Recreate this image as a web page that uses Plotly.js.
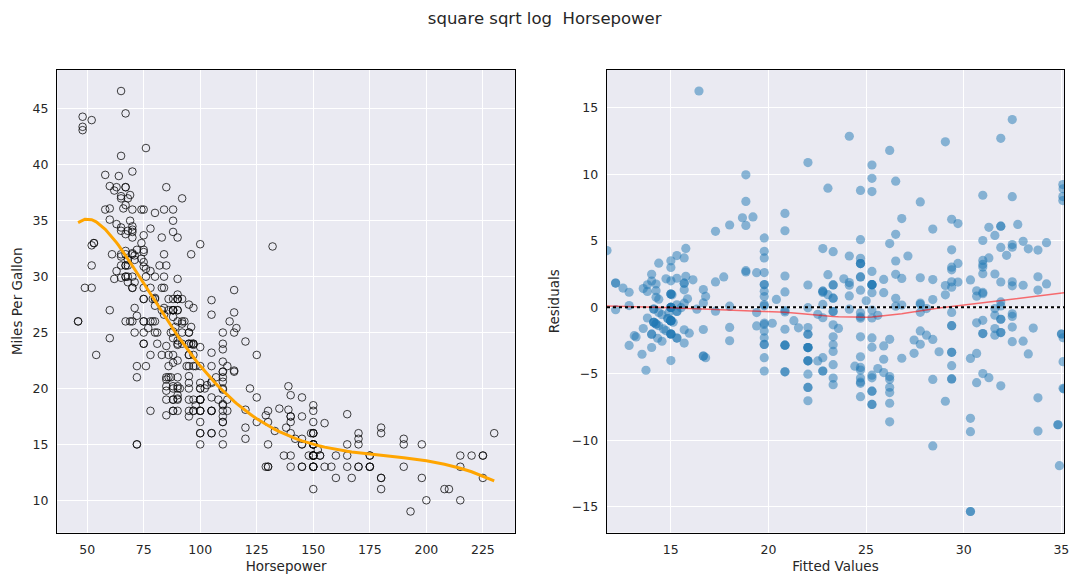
<!DOCTYPE html>
<html>
<head>
<meta charset="utf-8">
<script src="https://cdn.plot.ly/plotly-3.0.1.min.js"></script>
<style>
  html, body { margin: 0; padding: 0; background: #ffffff; }
  #chart { width: 1080px; height: 585px; }
</style>
</head>
<body>
<div id="chart"></div>
<script>
// ---- Data: Auto MPG (horsepower, miles per gallon), 392 cars ----
const horsepower = [
  130,165,150,150,140,198,220,215,225,190,170,160,150,225,95,95,97,85,88,46,87,90,95,113,90,215,200,210,193,
  88,90,95,100,105,100,88,100,165,175,153,150,180,170,175,110,72,100,88,86,90,70,76,65,69,60,70,
  95,80,54,90,86,165,175,150,153,150,208,155,160,190,97,150,130,140,150,112,76,87,69,86,92,97,80,88,
  175,150,145,137,150,198,150,158,150,215,225,175,105,100,100,88,95,46,150,167,170,180,100,88,72,94,90,85,107,90,145,230,49,75,91,112,150,110,122,180,
  95,100,100,67,80,65,75,100,110,105,140,150,150,140,150,83,67,78,52,61,75,75,75,97,93,67,
  95,105,72,72,170,145,150,148,110,105,110,95,110,110,129,75,83,100,78,96,71,97,97,70,90,95,88,98,115,53,
  86,81,92,79,83,140,150,120,152,100,105,81,90,52,60,70,53,100,78,110,95,71,70,75,72,102,150,88,108,120,180,145,130,150,
  68,80,58,96,70,145,110,145,130,110,105,100,98,180,170,190,149,78,88,75,89,63,83,67,78,97,110,110,
  48,66,52,70,60,110,140,139,105,95,85,88,100,90,105,85,110,120,145,165,139,140,68,95,97,75,95,105,85,97,103,125,115,133,71,68,
  115,85,88,90,110,130,129,138,135,155,142,125,150,71,65,80,80,77,125,71,90,70,70,65,69,90,115,115,90,
  76,60,70,65,90,88,90,90,78,90,75,92,75,65,105,65,48,48,67,67,67,67,62,132,100,88,72,
  84,84,92,110,84,58,64,60,67,65,62,68,63,65,65,74,75,75,100,74,80,76,116,120,110,105,88,85,
  88,88,88,85,84,90,92,74,68,68,63,70,88,75,70,67,67,67,110,85,92,112,96,84,90,86,52,84,79,82
];
const mpg = [
  18,15,18,16,17,15,14,14,14,15,15,14,15,14,24,22,18,21,27,26,25,24,25,26,21,10,10,11,9,
  27,28,25,19,16,17,19,18,14,14,14,14,12,13,13,18,22,19,18,23,28,30,30,31,35,27,26,
  24,25,23,20,21,13,14,15,14,17,11,13,12,13,19,15,13,13,14,18,22,21,26,22,28,23,28,27,
  13,14,13,14,15,12,13,13,14,13,12,13,18,16,18,18,23,26,11,12,13,12,18,20,21,22,18,19,21,26,15,16,29,24,20,19,15,24,20,11,
  20,19,15,31,26,32,25,16,16,18,16,13,14,14,14,29,26,26,31,32,28,24,26,24,26,31,
  19,18,15,15,16,15,16,14,17,16,15,18,21,20,13,29,23,20,23,24,25,24,18,29,19,23,23,22,25,33,
  28,25,25,26,27,17.5,16,15.5,14.5,22,22,24,22.5,29,24.5,29,33,20,18,18.5,17.5,29.5,32,28,26.5,20,13,19,19,16.5,16.5,13,13,13,
  31.5,30,36,25.5,33.5,17.5,17,15.5,15,17.5,20.5,19,18.5,16,15.5,15.5,16,29,24.5,26,25.5,30.5,33.5,30,30.5,22,21.5,21.5,
  43.1,36.1,32.8,39.4,36.1,19.9,19.4,20.2,19.2,20.5,20.2,25.1,20.5,19.4,20.6,20.8,18.6,18.1,19.2,17.7,18.1,17.5,30,27.5,27.2,30.9,21.1,23.2,23.8,23.9,20.3,17,21.6,16.2,31.5,29.5,
  21.5,19.8,22.3,20.2,20.6,17,17.6,16.5,18.2,16.9,15.5,19.2,18.5,31.9,34.1,35.7,27.4,25.4,23,27.2,23.9,34.2,34.5,31.8,37.3,28.4,28.8,26.8,33.5,
  41.5,38.1,32.1,37.2,28,26.4,24.3,19.1,34.3,29.8,31.3,37,32.2,46.6,27.9,40.8,44.3,43.4,36.4,30,44.6,33.8,29.8,32.7,23.7,35,32.4,
  27.2,26.6,25.8,23.5,30,39.1,39,35.1,32.3,37,37.7,34.1,34.7,34.4,29.9,33,33.7,32.4,32.9,31.6,28.1,30.7,25.4,24.2,22.4,26.6,20.2,17.6,
  28,27,34,31,29,27,24,36,37,31,38,36,36,36,34,38,32,38,25,38,26,22,32,36,27,27,44,32,28,31
];

const chartTitle = 'square sqrt log\u00a0 Horsepower';
const xTitleLeft = 'Horsepower';
const yTitleLeft = 'Miles Per Gallon';
const xTitleRight = 'Fitted Values';
const yTitleRight = 'Residuals';

// ---- OLS: mpg ~ hp + hp^2 + sqrt(hp) + log(hp) ----
function features(h) { return [h, h * h, Math.sqrt(h), Math.log(h)]; }
function olsFit(xs, ys) {
  const n = xs.length, p = 4;
  const F = xs.map(features);
  const mu = [], sd = [];
  for (let j = 0; j < p; j++) {
    let m = 0; for (const f of F) m += f[j]; m /= n;
    let v = 0; for (const f of F) v += (f[j] - m) ** 2;
    mu.push(m); sd.push(Math.sqrt(v / n));
  }
  const k = p + 1;
  const cols = [];
  cols.push(F.map(() => 1));
  for (let j = 0; j < p; j++) cols.push(F.map(f => (f[j] - mu[j]) / sd[j]));
  // modified Gram-Schmidt QR
  const Q = [], R = Array.from({length: k}, () => new Array(k).fill(0));
  for (let j = 0; j < k; j++) {
    let v = cols[j].slice();
    for (let i = 0; i < j; i++) {
      let d = 0; for (let t = 0; t < n; t++) d += Q[i][t] * v[t];
      R[i][j] = d;
      for (let t = 0; t < n; t++) v[t] -= d * Q[i][t];
    }
    let nr = 0; for (let t = 0; t < n; t++) nr += v[t] * v[t];
    nr = Math.sqrt(nr);
    R[j][j] = nr;
    Q.push(v.map(a => a / nr));
  }
  const qy = Q.map(q => { let s = 0; for (let t = 0; t < n; t++) s += q[t] * ys[t]; return s; });
  const beta = new Array(k).fill(0);
  for (let i = k - 1; i >= 0; i--) {
    let s = qy[i];
    for (let j = i + 1; j < k; j++) s -= R[i][j] * beta[j];
    beta[i] = s / R[i][i];
  }
  return h => {
    const f = features(h);
    let s = beta[0];
    for (let j = 0; j < p; j++) s += beta[j + 1] * (f[j] - mu[j]) / sd[j];
    return s;
  };
}

// ---- LOWESS (frac 2/3, 3 robustifying iterations) ----
function lowess(x, y, frac, iters) {
  const n = x.length;
  const idx = x.map((_, i) => i).sort((a, b) => x[a] - x[b]);
  const xs = idx.map(i => x[i]), ys = idx.map(i => y[i]);
  const k = Math.floor(frac * n + 1e-10);
  let rw = new Array(n).fill(1);
  const fit = new Array(n).fill(0);
  for (let it = 0; it <= iters; it++) {
    for (let i = 0; i < n; i++) {
      const d = xs.map(v => Math.abs(v - xs[i]));
      const ds = d.slice().sort((a, b) => a - b);
      let h = ds[k - 1]; if (h <= 0) h = 1e-12;
      let sw = 0, sx = 0, sy = 0, sxx = 0, sxy = 0;
      for (let j = 0; j < n; j++) {
        const u = d[j] / h;
        if (u < 1) {
          const w = Math.pow(1 - u * u * u, 3) * rw[j];
          sw += w; sx += w * xs[j]; sy += w * ys[j];
          sxx += w * xs[j] * xs[j]; sxy += w * xs[j] * ys[j];
        }
      }
      const mx = sx / sw, my = sy / sw;
      const vx = sxx / sw - mx * mx, cxy = sxy / sw - mx * my;
      fit[i] = vx > 1e-12 ? my + cxy / vx * (xs[i] - mx) : my;
    }
    if (it === iters) break;
    const res = ys.map((v, i) => v - fit[i]);
    const ab = res.map(Math.abs).sort((a, b) => a - b);
    const med = n % 2 ? ab[(n - 1) / 2] : (ab[n / 2 - 1] + ab[n / 2]) / 2;
    const s = 6 * med;
    rw = res.map(r => { const u = r / s; return Math.abs(u) < 1 ? (1 - u * u) ** 2 : 0; });
  }
  return {xs, fit};
}

const predict = olsFit(horsepower, mpg);
const fitted = horsepower.map(predict);
const residuals = mpg.map((v, i) => v - fitted[i]);
const curveX = Array.from(new Set(horsepower)).sort((a, b) => a - b);
const curveY = curveX.map(predict);
const lw = lowess(fitted, residuals, 2 / 3, 3);

function padRange(arr, frac) {
  const lo = Math.min(...arr), hi = Math.max(...arr), sp = hi - lo;
  return [lo - frac * sp, hi + frac * sp];
}

const FONT = 'DejaVu Sans, Liberation Sans, sans-serif';
const TXT = '#262626';

const traces = [
  {
    x: horsepower, y: mpg, type: 'scatter', mode: 'markers',
    xaxis: 'x', yaxis: 'y', hoverinfo: 'skip',
    marker: { size: 7.6, color: 'rgba(0,0,0,0)', line: { color: 'rgba(10,10,10,0.78)', width: 1 } }
  },
  {
    x: curveX, y: curveY, type: 'scatter', mode: 'lines',
    xaxis: 'x', yaxis: 'y', hoverinfo: 'skip',
    line: { color: '#FFA500', width: 3 }
  },
  {
    x: fitted, y: residuals, type: 'scatter', mode: 'markers',
    xaxis: 'x2', yaxis: 'y2', hoverinfo: 'skip',
    marker: { size: 9.2, color: '#1f77b4', opacity: 0.5, line: { width: 0 } }
  },
  {
    x: lw.xs, y: lw.fit, type: 'scatter', mode: 'lines',
    xaxis: 'x2', yaxis: 'y2', hoverinfo: 'skip',
    line: { color: 'rgba(255,0,0,0.55)', width: 1.5 }
  }
];

function axisBase(extra) {
  return Object.assign({
    showgrid: true, gridcolor: '#ffffff', gridwidth: 1,
    zeroline: false, showline: true, mirror: true,
    linecolor: '#000000', linewidth: 1.3,
    ticks: 'outside', ticklen: 5, tickcolor: 'rgba(0,0,0,0)',
    tickfont: { family: FONT, size: 12.5, color: TXT },
    automargin: false, fixedrange: true
  }, extra);
}

const yDom = [52.5 / 585, 515 / 585];
const layout = {
  width: 1080, height: 585,
  margin: { l: 0, r: 0, t: 0, b: 0 },
  paper_bgcolor: '#ffffff', plot_bgcolor: '#EAEAF2',
  showlegend: false,
  font: { family: FONT, color: TXT },
  title: {
    text: chartTitle, x: 544.7 / 1080, xanchor: 'center',
    y: 1 - 18.5 / 585, yanchor: 'middle', yref: 'container',
    font: { family: FONT, size: 16.5, color: TXT }
  },
  xaxis: axisBase({
    domain: [57.3 / 1080, 515 / 1080], anchor: 'y',
    range: padRange(horsepower, 0.05), tick0: 0, dtick: 25,
    title: { text: xTitleLeft, font: { family: FONT, size: 13.5, color: TXT }, standoff: 5 }
  }),
  yaxis: axisBase({
    domain: yDom, anchor: 'x',
    range: padRange(mpg, 0.05), tick0: 0, dtick: 5,
    title: { text: yTitleLeft, font: { family: FONT, size: 13.5, color: TXT }, standoff: 7 }
  }),
  xaxis2: axisBase({
    domain: [607 / 1080, 1064 / 1080], anchor: 'y2',
    range: [Math.min(...fitted), Math.max(...fitted)], tick0: 0, dtick: 5,
    title: { text: xTitleRight, font: { family: FONT, size: 13.5, color: TXT }, standoff: 5 }
  }),
  yaxis2: axisBase({
    domain: yDom, anchor: 'x2',
    range: padRange(residuals, 0.05), tick0: 0, dtick: 5,
    title: { text: yTitleRight, font: { family: FONT, size: 13.5, color: TXT }, standoff: 9 }
  }),
  shapes: [{
    type: 'line', xref: 'x2 domain', x0: 0, x1: 1, yref: 'y2', y0: 0, y1: 0,
    layer: 'above', line: { color: '#000000', width: 2, dash: 'dot' }
  }]
};

Plotly.newPlot('chart', traces, layout, { displayModeBar: false, staticPlot: true });
</script>
</body>
</html>
